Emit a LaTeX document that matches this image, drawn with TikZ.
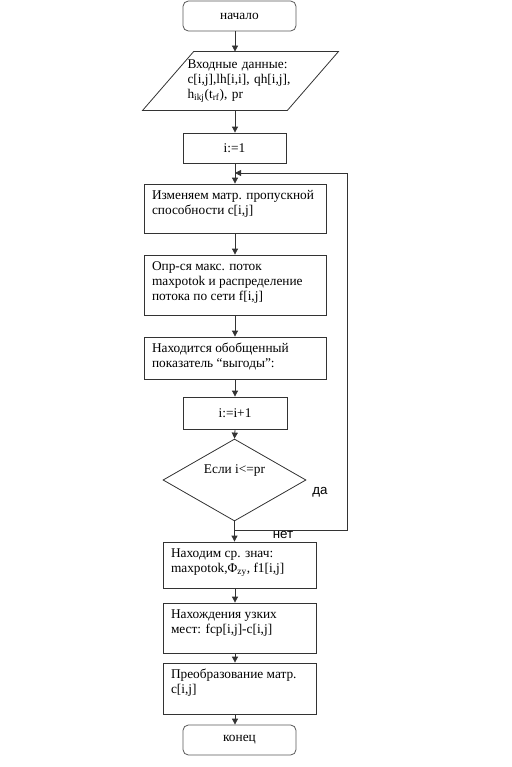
\documentclass[tikz,border=0pt]{standalone}
\usepackage{fontspec}
\setmainfont{Liberation Serif}
\newfontfamily\lsans{Liberation Sans}
\usetikzlibrary{shapes.geometric,arrows.meta,calc}
\newdimen\px \px=0.75pt
\newcommand{\bx}[3]{\begin{minipage}[c][#2\px][t]{\dimexpr#1\px-12pt\relax}\vspace*{4pt}\strut#3\end{minipage}}
\begin{document}
\begin{tikzpicture}[x=0.75pt,y=-0.75pt,
  base/.style={font=\fontsize{10pt}{11.25pt}\selectfont, line width=0.6pt},
  lin/.style={line width=0.6pt, draw=black!80},
  arr/.style={lin, -{Triangle[length=4.5pt,width=4.5pt]}},
  proc/.style={base, draw=black!80, rectangle, inner xsep=6pt, inner ysep=0pt},
  simple/.style={base, draw=black!80, rectangle, inner sep=0pt},
  term/.style={base, draw=black!65, rectangle, rounded corners=4pt, minimum width=84.75pt, minimum height=22.5pt, inner sep=0pt},
  inp/.style={base, rectangle, minimum width=146.25pt, minimum height=43.5pt, inner sep=0pt, text width=79.5pt, align=left},
  dec/.style={base, draw=black!80, diamond, minimum width=107.25pt, minimum height=61.5pt, inner sep=0pt, aspect=1.74},
  lbl/.style={font=\lsans\fontsize{10pt}{11.25pt}\selectfont, inner sep=0pt}]
\useasboundingbox (0,0) rectangle (511,767);
\coordinate (spine) at (235,0);

\node[term] (start) at (239.5,16) {начало};
\node[inp] (input) at (240.5,81) {Входные данные:\\c[i,j],lh[i,i], qh[i,j],\\h\textsubscript{ikj}(t\textsubscript{rf}), pr};
\draw[lin] (input.south west) -- ($(input.north west)+(51,0)$) -- (input.north east) -- ($(input.south east)+(-51,0)$) -- cycle;
\node[simple, minimum width=77.25pt, minimum height=22.5pt] (init) at (234.5,148) {i:=1};
\node[proc] (chg) at (235,208.5) {\bx{182}{49}{Изменяем матр. пропускной\\способности c[i,j]}};
\node[proc] (flow) at (235,285) {\bx{182}{60}{Опр-ся макс. поток\\maxpotok и распределение\\потока по сети f[i,j]}};
\node[proc] (gain) at (235,358) {\bx{182}{42}{Находится обобщенный\\показатель “выгоды”:}};
\node[simple, minimum width=78pt, minimum height=24pt] (inc) at (235,413) {i:=i+1};
\node[dec] (cond) at (234.5,480) {\raisebox{5pt}[0pt][0pt]{Если i<=pr}};
\node[lbl] (yes) at (320,492) {да};
\node[lbl] (no) at (283,535) {нет};
\node[proc] (avg) at (239.5,565) {\bx{153}{46}{Находим ср. знач:\\maxpotok,Φ\textsubscript{zy}, f1[i,j]}};
\node[proc] (neck) at (239.5,628) {\bx{153}{50}{Нахождения узких\\мест: fcp[i,j]-c[i,j]}};
\node[proc] (trans) at (239.5,688.5) {\bx{153}{51}{Преобразование матр.\\c[i,j]}};
\node[term] (stop) at (239.5,740) {конец};

\draw[arr] (start.south -| spine) -- (input.north -| spine);
\draw[arr] (input.south -| spine) -- (init.north -| spine);
\draw[arr] (init.south -| spine) -- (chg.north -| spine);
\draw[arr] (chg.south -| spine) -- (flow.north -| spine);
\draw[arr] (flow.south -| spine) -- (gain.north -| spine);
\draw[arr] (gain.south -| spine) -- (inc.north -| spine);
\draw[arr] (inc.south -| spine) -- (cond.north);
\draw[arr] (cond.south) -- (avg.north -| cond.south);
\draw[arr] (avg.south -| spine) -- (neck.north -| spine);
\draw[arr] (neck.south -| spine) -- (trans.north -| spine);
\draw[arr] (trans.south -| spine) -- (stop.north -| spine);

\coordinate (split) at (234.5,530);
\coordinate (loopA) at (347,530);
\coordinate (loopB) at (347,173);
\coordinate (join) at (235,173);
\draw[lin] (split) -- (loopA) -- (loopB);
\draw[arr] (loopB) -- (join);
\end{tikzpicture}
\end{document}
